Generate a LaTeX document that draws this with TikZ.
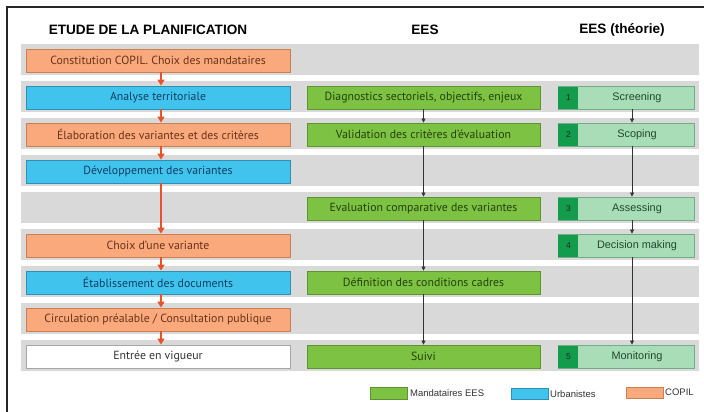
\documentclass[tikz,border=0pt]{standalone}
\usepackage{fontspec}
\setmainfont{Liberation Sans}
\newfontfamily\boxfont{PT Sans}
\usetikzlibrary{arrows.meta}
\definecolor{bandgray}{HTML}{D9D9D9}
\definecolor{ofill}{HTML}{F9A97C}
\definecolor{odraw}{HTML}{C98152}
\definecolor{otext}{HTML}{6A3318}
\definecolor{bfill}{HTML}{40C4EE}
\definecolor{bdraw}{HTML}{2D8FB3}
\definecolor{btext}{HTML}{123E63}
\definecolor{gfill}{HTML}{7DC242}
\definecolor{gdraw}{HTML}{5C952E}
\definecolor{gtext}{HTML}{24420D}
\definecolor{lgfill}{HTML}{A8DDB8}
\definecolor{lgdraw}{HTML}{70AE86}
\definecolor{lgtext}{HTML}{1F4A2C}
\definecolor{dgfill}{HTML}{129C4C}
\definecolor{arrred}{HTML}{E8532B}
\tikzset{
  band/.style={rectangle, fill=bandgray, draw=none, minimum width=678pt, minimum height=31pt, inner sep=0pt},
  basebox/.style={rectangle, line width=0.8pt, minimum height=23pt, inner sep=0pt, font=\boxfont\fontsize{11.8}{13}\selectfont},
  obox/.style={basebox, fill=ofill, draw=odraw, text=otext, minimum width=264pt},
  bbox/.style={basebox, fill=bfill, draw=bdraw, text=btext, minimum width=264pt},
  wbox/.style={basebox, fill=white, draw=gray!70, text=black!80, minimum width=264pt},
  gbox/.style={basebox, fill=gfill, draw=gdraw, text=gtext, minimum width=233pt},
  lbox/.style={rectangle, line width=0.8pt, minimum height=23pt, inner sep=0pt, fill=lgfill, draw=lgdraw, text=lgtext, minimum width=136pt},
  lbl/.style={inner sep=0pt, text=lgtext, font=\fontsize{10.9}{12}\selectfont},
  numbox/.style={rectangle, fill=dgfill, draw=none, minimum width=20pt, minimum height=22pt, inner sep=0pt, text=black!85, font=\fontsize{8.5}{10}\selectfont},
  header/.style={inner sep=0pt, font=\bfseries\fontsize{13.6}{15}\selectfont},
  oarrow/.style={draw=arrred, line width=1.8pt, -{Triangle[length=6pt,width=7pt]}},
  karrow/.style={draw=black!80, line width=0.6pt, -{Triangle[length=4pt,width=4pt]}},
  swatch/.style={rectangle, minimum width=37pt, minimum height=11.5pt, inner sep=0pt, line width=0.6pt},
  legtext/.style={inner sep=0pt, anchor=base west, font=\fontsize{9.5}{11}\selectfont, text=black!80},
}
\begin{document}
\begin{tikzpicture}[x=1pt,y=-1pt]
\useasboundingbox (0,0) rectangle (704,412);
\fill[white] (0,0) rectangle (704,412);
\coordinate (fa) at (7,412);
\coordinate (fb) at (7,7);
\coordinate (fc) at (704,7);
\draw[line width=1.2pt, black!85] (fa) -- (fb) -- (fc);
% headers
\node[header] (h1) at (148,30) {ETUDE DE LA PLANIFICATION};
\node[header] (h2) at (425,30) {EES};
\node[header] (h3) at (622,30) {EES (théorie)};
% bands
\foreach \i/\t in {1/44,2/81,3/118,4/155,5/192,6/229,7/266,8/303,9/340}{
  \node[band] (band\i) at (360,\t+15.5) {};
}
% left column
\node[obox] (c1) at (158,60.5) {Constitution COPIL. Choix des mandataires};
\node[bbox] (c2) at (158,97.5) {Analyse territoriale};
\node[obox] (c3) at (158,134.5) {Élaboration des variantes et des critères};
\node[bbox] (c4) at (158,171.5) {Développement des variantes};
\node[obox] (c6) at (158,245.5) {Choix d’une variante};
\node[bbox] (c7) at (158,282.5) {Établissement des documents};
\node[obox] (c8) at (158,319.5) {Circulation préalable / Consultation publique};
\node[wbox] (c9) at (158,356.5) {Entrée en vigueur};
% middle column
\node[gbox] (m2) at (423.5,97.5) {Diagnostics sectoriels, objectifs, enjeux};
\node[gbox] (m3) at (423.5,134.5) {Validation des critères d’évaluation};
\node[gbox] (m5) at (423.5,208.5) {Evaluation comparative des variantes};
\node[gbox] (m7) at (423.5,282.5) {Définition des conditions cadres};
\node[gbox] (m9) at (423.5,356.5) {Suivi};
% right column
\foreach \n/\y/\txt in {2/97.5/Screening,3/134.5/Scoping,5/208.5/Assessing,6/245.5/Decision making,9/356.5/Monitoring}{
  \node[lbox] (r\n) at (626,\y) {};
  \node[lbl] (rt\n) at (637,\y) {\txt};
}
\node[numbox] (n2) at (568.4,97.5) {1};
\node[numbox] (n3) at (568.4,134.5) {2};
\node[numbox] (n5) at (568.4,208.5) {3};
\node[numbox] (n6) at (568.4,245.5) {4};
\node[numbox] (n9) at (568.4,356.5) {5};
% arrows left
\coordinate (lc) at (161,0);
\foreach \a/\b in {c1/c2,c2/c3,c3/c4,c4/c6,c6/c7,c7/c8,c8/c9}{
  \draw[oarrow] (\a.south -| lc) -- (\b.north -| lc);
}
% arrows middle
\foreach \a/\b in {m2/m3,m3/m5,m5/m7,m7/m9}{
  \draw[karrow] (\a.south) -- (\b.north);
}
% arrows right
\coordinate (rc) at (632,0);
\foreach \a/\b in {r2/r3,r3/r5,r5/r6,r6/r9}{
  \draw[karrow] (\a.south -| rc) -- (\b.north -| rc);
}
% legend
\node[swatch, fill=gfill, draw=gdraw] (sw1) at (388.5,393.5) {};
\node[legtext] (lt1) at (410,396) {Mandataires EES};
\node[swatch, fill=bfill, draw=bdraw] (sw2) at (529.5,394) {};
\node[legtext] (lt2) at (550,397) {Urbanistes};
\node[swatch, fill=ofill, draw=odraw] (sw3) at (645,393) {};
\node[legtext] (lt3) at (665,395) {COPIL};
\end{tikzpicture}
\end{document}
